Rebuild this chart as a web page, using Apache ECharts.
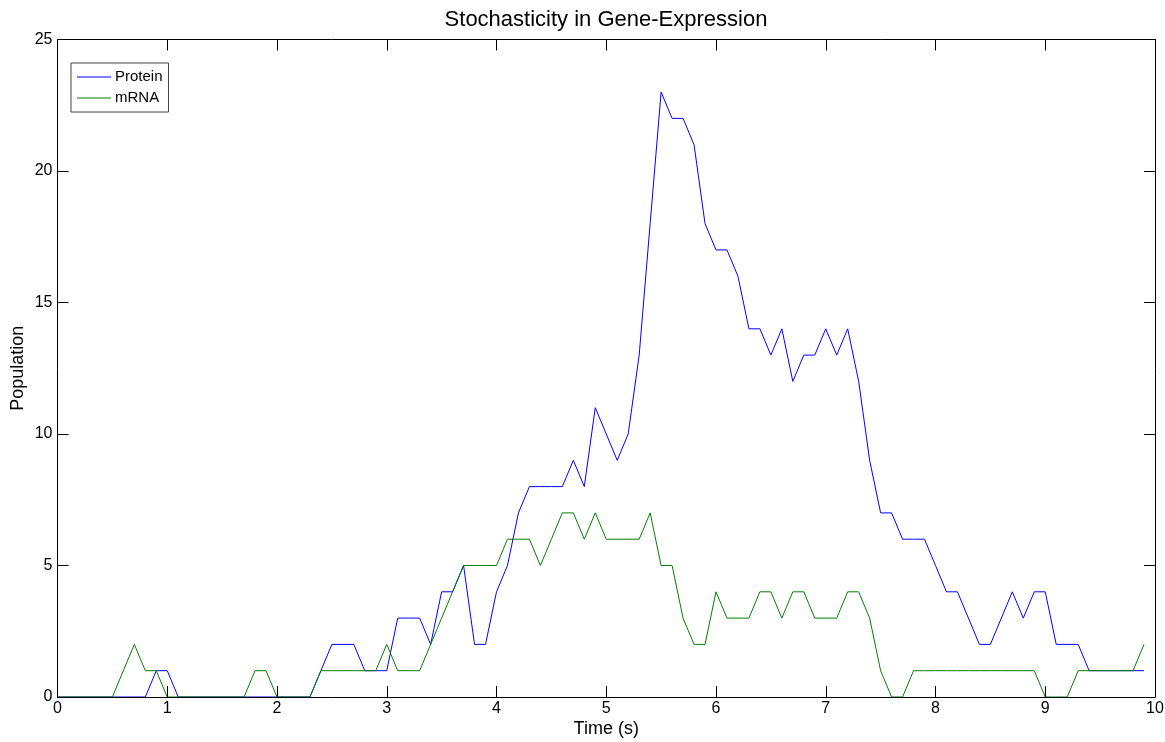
<!DOCTYPE html>
<html>
<head>
<meta charset="utf-8">
<script src="https://cdn.jsdelivr.net/npm/echarts@6/dist/echarts.min.js"></script>
<style>
  html, body { margin: 0; padding: 0; background: #fff; }
  #chart { width: 1165px; height: 742px; }
</style>
</head>
<body>
<div id="chart"></div>
<script>
// Sampling times (s)
const times = [
  0.0, 0.1, 0.2, 0.3, 0.4, 0.5, 0.6, 0.7, 0.8, 0.9,
  1.0, 1.1, 1.2, 1.3, 1.4, 1.5, 1.6, 1.7, 1.8, 1.9,
  2.0, 2.1, 2.2, 2.3, 2.4, 2.5, 2.6, 2.7, 2.8, 2.9,
  3.0, 3.1, 3.2, 3.3, 3.4, 3.5, 3.6, 3.7, 3.8, 3.9,
  4.0, 4.1, 4.2, 4.3, 4.4, 4.5, 4.6, 4.7, 4.8, 4.9,
  5.0, 5.1, 5.2, 5.3, 5.4, 5.5, 5.6, 5.7, 5.8, 5.9,
  6.0, 6.1, 6.2, 6.3, 6.4, 6.5, 6.6, 6.7, 6.8, 6.9,
  7.0, 7.1, 7.2, 7.3, 7.4, 7.5, 7.6, 7.7, 7.8, 7.9,
  8.0, 8.1, 8.2, 8.3, 8.4, 8.5, 8.6, 8.7, 8.8, 8.9,
  9.0, 9.1, 9.2, 9.3, 9.4, 9.5, 9.6, 9.7, 9.8, 9.9
];

// Protein copy number at each sampling time
const protein = [
  0, 0, 0, 0, 0, 0, 0, 0, 0, 1,
  1, 0, 0, 0, 0, 0, 0, 0, 0, 0,
  0, 0, 0, 0, 1, 2, 2, 2, 1, 1,
  1, 3, 3, 3, 2, 4, 4, 5, 2, 2,
  4, 5, 7, 8, 8, 8, 8, 9, 8, 11,
  10, 9, 10, 13, 18, 23, 22, 22, 21, 18,
  17, 17, 16, 14, 14, 13, 14, 12, 13, 13,
  14, 13, 14, 12, 9, 7, 7, 6, 6, 6,
  5, 4, 4, 3, 2, 2, 3, 4, 3, 4,
  4, 2, 2, 2, 1, 1, 1, 1, 1, 1
];

// mRNA copy number at each sampling time
const mRNA = [
  0, 0, 0, 0, 0, 0, 1, 2, 1, 1,
  0, 0, 0, 0, 0, 0, 0, 0, 1, 1,
  0, 0, 0, 0, 1, 1, 1, 1, 1, 1,
  2, 1, 1, 1, 2, 3, 4, 5, 5, 5,
  5, 6, 6, 6, 5, 6, 7, 7, 6, 7,
  6, 6, 6, 6, 7, 5, 5, 3, 2, 2,
  4, 3, 3, 3, 4, 4, 3, 4, 4, 3,
  3, 3, 4, 4, 3, 1, 0, 0, 1, 1,
  1, 1, 1, 1, 1, 1, 1, 1, 1, 1,
  0, 0, 0, 1, 1, 1, 1, 1, 1, 2
];

const xTicks = [0, 1, 2, 3, 4, 5, 6, 7, 8, 9, 10];
const yTicks = [0, 5, 10, 15, 20, 25];

const FONT = 'Liberation Sans, Arial, sans-serif';
const pair = (vals) => times.map((t, i) => [t, vals[i]]);

const chart = echarts.init(document.getElementById('chart'), null, { renderer: 'canvas' });

const axisLine = { show: true, onZero: false, lineStyle: { color: '#000', width: 1 } };
const tickIn = { show: true, inside: true, length: 11, lineStyle: { color: '#000', width: 1 } };

chart.setOption({
  backgroundColor: '#fff',
  animation: false,
  title: {
    text: 'Stochasticity in Gene-Expression',
    left: 601,
    textAlign: 'center',
    top: 4,
    textStyle: { fontFamily: FONT, fontSize: 22, fontWeight: 'normal', color: '#000' }
  },
  legend: {
    orient: 'vertical',
    left: 71,
    top: 63,
    padding: [6, 6, 6, 6],
    itemGap: 5,
    itemWidth: 34,
    itemHeight: 1,
    icon: 'rect',
    borderColor: '#444',
    borderWidth: 1,
    backgroundColor: '#fff',
    textStyle: { fontFamily: FONT, fontSize: 15, color: '#000', lineHeight: 16, padding: [0, 0, 0, -1] },
    data: ['Protein', 'mRNA']
  },
  grid: {
    left: 57.5, right: 10, top: 39.5, bottom: 45,
    containLabel: false,
    outerBoundsMode: 'none'
  },
  xAxis: [
    {
      type: 'value',
      min: xTicks[0],
      max: xTicks[xTicks.length - 1],
      interval: 1,
      name: 'Time (s)',
      nameLocation: 'middle',
      nameGap: 23,
      nameMoveOverlap: false,
      nameTextStyle: { fontFamily: FONT, fontSize: 18, color: '#000' },
      axisLine: axisLine,
      axisTick: tickIn,
      splitLine: { show: false },
      axisLabel: { fontFamily: FONT, fontSize: 16, color: '#000', margin: 4 },
      z: 10
    },
    {
      type: 'value',
      position: 'top',
      min: xTicks[0],
      max: xTicks[xTicks.length - 1],
      interval: 1,
      axisLine: axisLine,
      axisTick: tickIn,
      splitLine: { show: false },
      axisLabel: { show: false },
      z: 10
    }
  ],
  yAxis: [
    {
      type: 'value',
      min: yTicks[0],
      max: yTicks[yTicks.length - 1],
      interval: 5,
      name: 'Population',
      nameLocation: 'middle',
      nameGap: 30,
      nameMoveOverlap: false,
      nameRotate: 90,
      nameTextStyle: { fontFamily: FONT, fontSize: 18, color: '#000' },
      axisLine: axisLine,
      axisTick: tickIn,
      splitLine: { show: false },
      axisLabel: { fontFamily: FONT, fontSize: 16, color: '#000', margin: 5 },
      z: 10
    },
    {
      type: 'value',
      position: 'right',
      min: yTicks[0],
      max: yTicks[yTicks.length - 1],
      interval: 5,
      axisLine: axisLine,
      axisTick: tickIn,
      splitLine: { show: false },
      axisLabel: { show: false },
      z: 10
    }
  ],
  series: [
    {
      name: 'Protein',
      type: 'line',
      data: pair(protein),
      symbol: 'none',
      lineStyle: { color: '#0000ff', width: 1 },
      itemStyle: { color: '#0000ff' },
      z: 2
    },
    {
      name: 'mRNA',
      type: 'line',
      data: pair(mRNA),
      symbol: 'none',
      lineStyle: { color: '#008000', width: 1 },
      itemStyle: { color: '#008000' },
      z: 3
    }
  ]
});
</script>
</body>
</html>
